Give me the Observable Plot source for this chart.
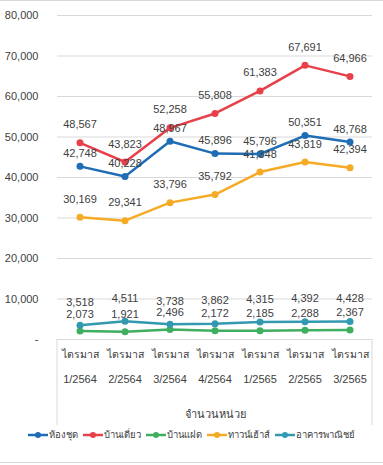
<!DOCTYPE html>
<html>
<head>
<meta charset="utf-8">
<script src="https://cdn.jsdelivr.net/npm/d3@7"></script>
<script src="https://cdn.jsdelivr.net/npm/@observablehq/plot@0.6"></script>
<style>
  html, body { margin: 0; padding: 0; background: #fff; }
  #wrap { width: 383px; height: 463px; border-top: 1px solid #d9d9d9; border-bottom: 1px solid #d9d9d9; box-sizing: border-box; position: relative; font-family: "Liberation Sans", Arial, sans-serif; }
  #legend { display: flex; justify-content: center; gap: 5px; font-size: 9.5px; color: #404040; margin-top: 2px; }
  #legend .item { display: flex; align-items: center; }
  #legend svg { margin-right: 1px; }
</style>
</head>
<body>
<div id="wrap"></div>
<script>
const quarters = ["1/2564", "2/2564", "3/2564", "4/2564", "1/2565", "2/2565", "3/2565"];
const quarterWord = "ไตรมาส";
const seriesNames = ["ห้องชุด", "บ้านเดี่ยว", "บ้านแฝด", "ทาวน์เฮ้าส์", "อาคารพาณิชย์"];
const seriesColors = ["#1f6db5", "#e8404a", "#3fae5f", "#f5ab25", "#3399b0"];
const condo = [42748, 40228, 48967, 45896, 45796, 50351, 48768];
const detached = [48567, 43823, 52258, 55808, 61383, 67691, 64966];
const twin = [2073, 1921, 2496, 2172, 2185, 2288, 2367];
const townhouse = [30169, 29341, 33796, 35792, 41348, 43819, 42394];
const shophouse = [3518, 4511, 3738, 3862, 4315, 4392, 4428];
const yTicks = [0, 10000, 20000, 30000, 40000, 50000, 60000, 70000, 80000];
const xTitle = "จำนวนหน่วย";

const allSeries = [condo, detached, twin, townhouse, shophouse];
const data = [];
allSeries.forEach((vals, i) => vals.forEach((v, j) => data.push({s: seriesNames[i], q: quarters[j], v})));
const fmt = d3.format(",");
const labelOffsets = {"ห้องชุด": -13, "บ้านเดี่ยว": -18, "บ้านแฝด": -17, "ทาวน์เฮ้าส์": -18, "อาคารพาณิชย์": -23};

const font = "'Liberation Sans', Arial, sans-serif";
const sideBorders = (index, scales, values, dims) => {
  const g = d3.create("svg:g");
  const y0 = scales.y(0);
  [dims.marginLeft, dims.width - dims.marginRight].forEach(x => {
    g.append("line").attr("x1", x).attr("x2", x).attr("y1", y0).attr("y2", dims.height)
      .attr("stroke", "#d9d9d9");
  });
  return g.node();
};

const chart = Plot.plot({
  width: 383,
  height: 424,
  marginTop: 14,
  marginLeft: 57,
  marginRight: 11,
  marginBottom: 86,
  style: {fontFamily: font, fontSize: "11px", color: "#404040", background: "transparent"},
  x: {type: "band", domain: quarters, padding: 0},
  y: {domain: [0, 80000]},
  color: {domain: seriesNames, range: seriesColors},
  marks: [
    Plot.gridY(yTicks, {stroke: "#d9d9d9", strokeOpacity: 1}),
    sideBorders,
    Plot.axisY(yTicks, {tickSize: 0, tickPadding: 19, fontSize: 11, tickFormat: d => d === 0 ? "-" : fmt(d), label: null}),
    Plot.axisX({tickSize: 0, tickPadding: 11, fontSize: 10.5, tickFormat: () => quarterWord, label: null}),
    Plot.axisX({tickSize: 0, tickPadding: 36, fontSize: 11, tickFormat: d => d, label: xTitle, labelAnchor: "center", labelArrow: "none", labelOffset: 78}),
    Plot.line(data, {x: "q", y: "v", z: "s", stroke: "s", strokeWidth: 2.5}),
    Plot.dot(data, {x: "q", y: "v", fill: "s", r: 3.5}),
    ...seriesNames.map(name => Plot.text(data.filter(d => d.s === name), {x: "q", y: "v", text: d => fmt(d.v), dy: labelOffsets[name], fill: "#404040", fontSize: 11}))
  ]
});

const wrap = document.getElementById("wrap");
wrap.appendChild(chart);

const legend = document.createElement("div");
legend.id = "legend";
seriesNames.forEach((name, i) => {
  const item = document.createElement("div");
  item.className = "item";
  item.innerHTML = `<svg width="20" height="10"><line x1="0" x2="20" y1="5" y2="5" stroke="${seriesColors[i]}" stroke-width="2.5"/><circle cx="10" cy="5" r="3" fill="${seriesColors[i]}"/></svg><span>${name}</span>`;
  legend.appendChild(item);
});
wrap.appendChild(legend);
</script>
</body>
</html>
